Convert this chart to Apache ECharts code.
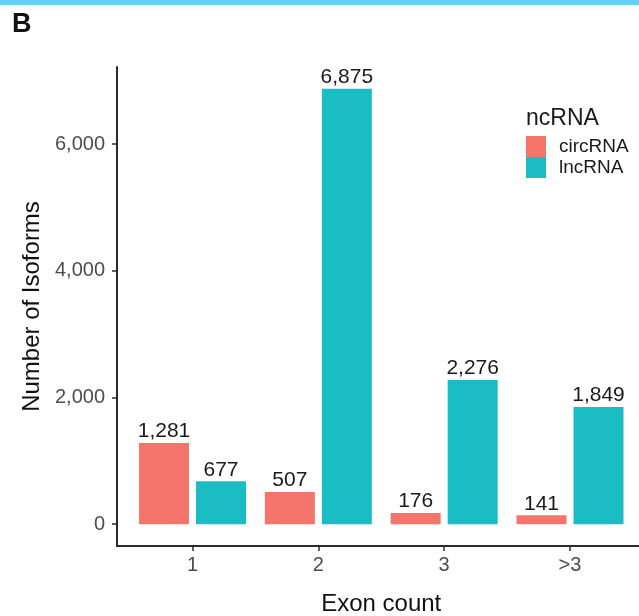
<!DOCTYPE html>
<html>
<head>
<meta charset="utf-8">
<script src="https://cdn.jsdelivr.net/npm/echarts@6/dist/echarts.min.js"></script>
<style>html,body{margin:0;padding:0;background:#fff}#c{width:639px;height:616px}</style>
</head>
<body>
<div id="c"></div>
<script>
var categories = ['1', '2', '3', '>3'];
var seriesNames = ['circRNA', 'lncRNA'];
var circRNA = [1281, 507, 176, 141];
var lncRNA = [677, 6875, 2276, 1849];
var yTicks = [0, 2000, 4000, 6000];

var FONT = 'Liberation Sans, Arial, Helvetica, sans-serif';
function fmt(v){ return String(v).replace(/\B(?=(\d{3})+(?!\d))/g, ','); }
function toPairs(arr){ return arr.map(function(v,i){ return [i+1, v]; }); }

var maxV = Math.max.apply(null, circRNA.concat(lncRNA));
var yMax = maxV * 1.05, yMin = -maxV * 0.05;

var chart = echarts.init(document.getElementById('c'), null, {renderer:'canvas'});
var labelStyle = {show:true, position:'top', distance:1, fontFamily:FONT, fontSize:21, color:'#1a1a1a',
  formatter:function(p){ return fmt(p.value[1]); }};
chart.setOption({
  animation:false,
  backgroundColor:'#ffffff',
  title:{text:'ncRNA', left:526, top:107, padding:0, textStyle:{fontFamily:FONT, fontSize:23, fontWeight:'normal', color:'#1a1a1a'}},
  legend:{orient:'vertical', left:526, top:136, padding:0, icon:'rect', itemWidth:20, itemHeight:21, itemGap:0,
    data:seriesNames, textStyle:{fontFamily:FONT, fontSize:19, lineHeight:21, color:'#1a1a1a', padding:[0,0,0,8]}},
  graphic:[
    {type:'rect', left:0, top:0, shape:{width:639, height:5}, style:{fill:'#63D3EF'}},
    {type:'text', left:12, top:11, style:{text:'B', font:'bold 27px ' + FONT, fill:'#111'}}
  ],
  grid:{left:117, top:67, width:528.5, height:479, outerBoundsMode:'none', containLabel:false},
  xAxis:{type:'value', min:0.4, max:4.6,
    name:'Exon count', nameLocation:'middle', nameGap:46,
    nameTextStyle:{fontFamily:FONT, fontSize:24, color:'#111'},
    axisLine:{show:true, onZero:false, lineStyle:{color:'#2b2b2b', width:2}},
    axisTick:{show:true, length:5, customValues:[1,2,3,4], lineStyle:{color:'#2b2b2b', width:1.5}},
    axisLabel:{customValues:[1,2,3,4], margin:9, fontFamily:FONT, fontSize:20, color:'#4d4d4d',
      formatter:function(v){ return categories[Math.round(v)-1]; }},
    splitLine:{show:false}},
  yAxis:{type:'value', min:yMin, max:yMax,
    name:'Number of Isoforms', nameLocation:'middle', nameGap:70, nameRotate:90,
    nameTextStyle:{fontFamily:FONT, fontSize:24, color:'#111'},
    axisLine:{show:true, lineStyle:{color:'#2b2b2b', width:2}},
    axisTick:{show:true, length:5, customValues:yTicks, lineStyle:{color:'#2b2b2b', width:1.5}},
    axisLabel:{customValues:yTicks, margin:12, fontFamily:FONT, fontSize:20, color:'#4d4d4d',
      formatter:function(v){ return fmt(v); }},
    splitLine:{show:false}},
  series:[
    {name:seriesNames[0], type:'bar', data:toPairs(circRNA), barWidth:50, barGap:'14%',
      itemStyle:{color:'#F5746B'}, label:labelStyle},
    {name:seriesNames[1], type:'bar', data:toPairs(lncRNA), barWidth:50, barGap:'14%',
      itemStyle:{color:'#1BBDC5'}, label:labelStyle}
  ]
});
</script>
</body>
</html>
